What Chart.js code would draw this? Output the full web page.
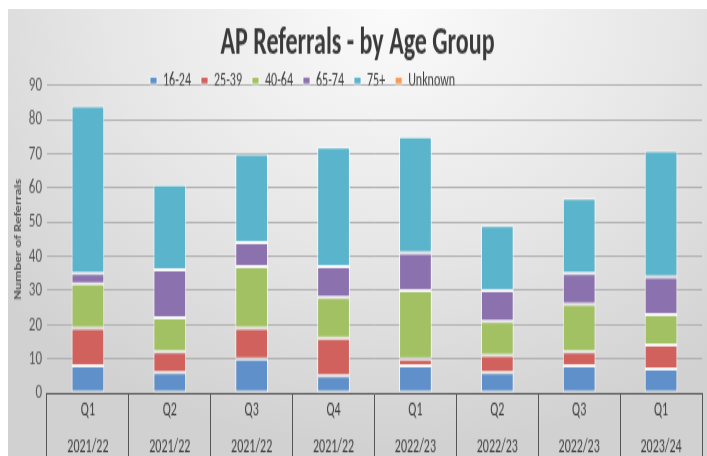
<!DOCTYPE html>
<html>
<head>
<meta charset="utf-8">
<script src="https://cdn.jsdelivr.net/npm/chart.js@4/dist/chart.umd.min.js"></script>
<style>
  html, body { margin: 0; padding: 0; background: #fff; overflow: hidden; }
  #wrap {
    position: absolute; left: 8px; top: 9px; width: 699px; height: 464px;
    background: radial-gradient(ellipse 75% 95% at 55% 0%, #fbfbfb 0%, #e6e6e6 55%, #d1d1d1 100%);
  }
  /* the original picture is stretched vertically, so draw short and stretch */
  #chart { display: block; transform: scaleY(1.6); transform-origin: 0 0; }
</style>
</head>
<body>
<div id="wrap"><canvas id="chart" width="699" height="285"></canvas></div>
<script>
const quarters = ["Q1", "Q2", "Q3", "Q4", "Q1", "Q2", "Q3", "Q1"];
const years = ["2021/22", "2021/22", "2021/22", "2021/22", "2022/23", "2022/23", "2022/23", "2023/24"];

const age16to24 = [8, 6, 10, 5, 8, 6, 8, 7];
const age25to39 = [11, 6, 9, 11, 2, 5, 4, 7];
const age40to64 = [13, 10, 18, 12, 20, 10, 14, 9];
const age65to74 = [3, 14, 7, 9, 11, 9, 9, 11];
const age75plus = [49, 25, 26, 35, 34, 19, 22, 37];
const ageUnknown = [0, 0, 0, 0, 0, 0, 0, 0];

const yTicks = [0, 10, 20, 30, 40, 50, 60, 70, 80, 90];

const font = "Carlito, 'Open Sans', sans-serif";

// legend starts left of centre in the original
const legendShift = {
  id: "legendShift",
  afterLayout(chart) {
    if (chart.legend) chart.legend.left = 132;
  }
};

function ds(label, data, color) {
  return {
    label: label,
    data: data,
    backgroundColor: color,
    borderColor: "rgba(255,255,255,0.75)",
    borderWidth: 1,
    borderSkipped: false,
    barPercentage: 0.4,
    categoryPercentage: 1
  };
}

const ctx = document.getElementById("chart").getContext("2d");
new Chart(ctx, {
  type: "bar",
  data: {
    labels: quarters.map((q, i) => [q, years[i]]),
    datasets: [
      ds("16-24", age16to24, "#5f90c9"),
      ds("25-39", age25to39, "#d0615d"),
      ds("40-64", age40to64, "#a2c163"),
      ds("65-74", age65to74, "#8b71ae"),
      ds("75+", age75plus, "#5ab4cb"),
      ds("Unknown", ageUnknown, "#f79a55")
    ]
  },
  plugins: [legendShift],
  options: {
    responsive: false,
    animation: false,
    layout: { padding: { left: 5, right: 5, top: 0, bottom: 17 } },
    plugins: {
      title: {
        display: true,
        text: "AP Referrals - by Age Group",
        color: "#3a3a3a",
        font: { family: font, size: 24, weight: "bold" },
        padding: { top: 8, bottom: -8 }
      },
      legend: {
        display: true,
        align: "start",
        maxHeight: 19,
        labels: {
          color: "#404040",
          font: { family: font, size: 12 },
          boxWidth: 7,
          boxHeight: 4.5,
          padding: 10
        }
      },
      tooltip: { enabled: false }
    },
    scales: {
      x: {
        stacked: true,
        grid: {
          offset: true,
          drawOnChartArea: false,
          drawTicks: true,
          tickLength: 50,
          color: "#555"
        },
        border: { display: true, color: "#555", width: 1 },
        ticks: {
          color: "#404040",
          font: { family: font, size: 12, lineHeight: 1.875 },
          mirror: true,
          crossAlign: "far",
          padding: -11,
          maxRotation: 0
        }
      },
      y: {
        stacked: true,
        min: 0,
        max: 90,
        afterBuildTicks(axis) {
          axis.ticks = yTicks.map(v => ({ value: v }));
        },
        grid: { color: "#b0b0b0", lineWidth: 1, drawTicks: false },
        border: { display: false },
        ticks: {
          color: "#595959",
          font: { family: font, size: 13 },
          padding: 5
        },
        title: {
          display: true,
          text: "Number of Referrals",
          color: "#595959",
          font: { family: font, size: 9, weight: "bold" },
          padding: { top: 0, bottom: 0 }
        }
      }
    }
  }
});
</script>
</body>
</html>
